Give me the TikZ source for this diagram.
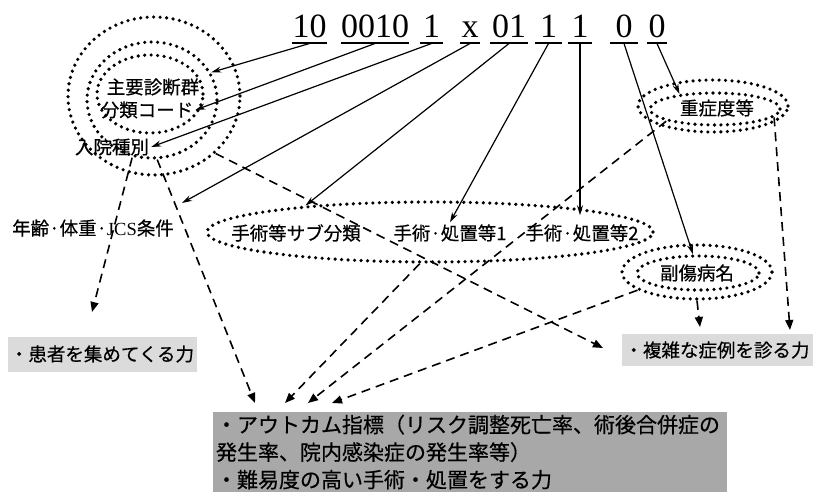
\documentclass[tikz,border=0pt]{standalone}
\usepackage{fontspec}
\setmainfont{Liberation Serif}
\newfontfamily\jp[UprightFeatures={FakeBold=0.5}]{Noto Sans CJK JP}
\usetikzlibrary{arrows.meta,shapes.geometric}
\begin{document}
\begin{tikzpicture}[x=1pt,y=-1pt,
  codetxt/.style={font=\fontsize{34}{34}\selectfont, inner sep=0pt, anchor=base},
  lbl/.style={font=\jp\fontsize{18.5}{22}\selectfont, inner sep=2pt},
  ring/.style={ellipse, draw, line width=3.6pt, dash pattern=on 0pt off 6.5pt, line cap=round, inner sep=0pt},
  solidarrow/.style={line width=1.2pt, -{Stealth[length=10pt,width=6pt]}},
  dasharrow/.style={line width=1.6pt, dash pattern=on 9pt off 6pt, -{Triangle[length=10pt,width=8pt]}},
  ulin/.style={line width=1.3pt},
  lightbox/.style={fill=black!14, inner sep=0pt, font=\jp\fontsize{18.5}{22}\selectfont},
  darkbox/.style={fill=black!34, inner sep=0pt, font=\jp\fontsize{21}{27.5}\selectfont}
]
\useasboundingbox (0,0) rectangle (817,497);
\fill[white] (0,0) rectangle (817,497);

% boxes
\node[lightbox, minimum width=189pt, minimum height=35pt] (B1) at (102,354) {・患者を集めてくる力};
\node[lightbox, minimum width=191pt, minimum height=32pt] (B2) at (717,350) {・複雑な症例を診る力};
\node[darkbox, minimum width=514pt, minimum height=80pt, text width=508pt, align=left] (B3) at (470,452)
  {・アウトカム指標（リスク調整死亡率、術後合併症の\\発生率、院内感染症の発生率等）\\・難易度の高い手術・処置をする力};

% rings
\node[ring, minimum width=172pt, minimum height=158pt] (R1o) at (154,96) {};
\node[ring, minimum width=130pt, minimum height=116pt] (R1m) at (152,100) {};
\node[ring, minimum width=106pt, minimum height=78pt] (R1i) at (150,94) {};
\node[ring, minimum width=446pt, minimum height=60pt] (E) at (430,232) {};
\node[ring, minimum width=150pt, minimum height=52pt] (R9o) at (713,106) {};
\node[ring, minimum width=130pt, minimum height=32pt] (R9i) at (715,109) {};
\node[ring, minimum width=150pt, minimum height=54pt] (R8o) at (697,272) {};
\node[ring, minimum width=122pt, minimum height=34pt] (R8i) at (698,273) {};

% labels
\node[lbl] (t1) at (153,87) {主要診断群};
\node[lbl] (t2) at (147,110) {分類コード};
\node[lbl] (t3) at (112,147) {入院種別};
\node[lbl] (t4) at (93,228) {年齢·体重·{\rmfamily JCS}条件};
\node[lbl] (t5) at (296,233) {手術等サブ分類};
\node[lbl] (t6) at (450,233) {手術·処置等1};
\node[lbl] (t7) at (582,233) {手術·処置等2};
\node[lbl] (t8) at (697,273) {副傷病名};
\node[lbl] (t9) at (717,108) {重症度等};

% code
\node[codetxt, minimum width=35pt] (c1) at (309.5,38) {10};
\node[codetxt, minimum width=66pt] (c2) at (375,38) {0010};
\node[codetxt, minimum width=23pt] (c3) at (431.5,38) {1};
\node[codetxt, minimum width=20pt] (c4) at (470,38) {x};
\node[codetxt, minimum width=38pt] (c5) at (509,38) {01};
\node[codetxt, minimum width=27pt] (c6) at (548.5,38) {1};
\node[codetxt, minimum width=24pt] (c7) at (580,38) {1};
\node[codetxt, minimum width=28pt] (c8) at (624,38) {0};
\node[codetxt, minimum width=20pt] (c9) at (657,38) {0};
\foreach \i in {1,...,9}{
  \draw[ulin] ([yshift=-5pt]c\i.base west) -- ([yshift=-5pt]c\i.base east);
  \coordinate (u\i) at ([yshift=-5.5pt]c\i.base);
}

% tip coordinates
\coordinate (a4) at (182,203);
\coordinate (k1) at (92,312);
\coordinate (k2) at (255,403);
\coordinate (k3) at (603,348);
\coordinate (k4) at (285,403);
\coordinate (k5) at (308,403);
\coordinate (k6) at (332,403);
\coordinate (k7) at (700,327);
\coordinate (k8) at (790,330);

% solid arrows
\draw[solidarrow] (u1) -- (R1m.25);
\draw[solidarrow] (u2) -- (t2.east);
\draw[solidarrow] (u3) -- (t3.east);
\draw[solidarrow] (u4) -- (a4);
\draw[solidarrow] (u5) -- (E.168);
\draw[solidarrow] (u6) -- (t6.north);
\draw[solidarrow, shorten >=7pt] (u7) -- (u7 |- t7.north);
\draw[solidarrow] (u8) -- (R8i.105);
\draw[solidarrow] (u9) -- (R9i.157);

% dashed arrows
\draw[dasharrow] (t3.-28) -- (k1);
\draw[dasharrow] (R1m.-85) -- (k2);
\draw[dasharrow] (R1o.-43) -- (k3);
\draw[dasharrow] (E.-108) -- (k4);
\draw[dasharrow] (R9i.-166) -- (k5);
\draw[dasharrow] (R8o.-163) -- (k6);
\draw[dasharrow] (R8o.south) -- (k7);
\draw[dasharrow] (R9i.-8) -- (k8);
\end{tikzpicture}
\end{document}
